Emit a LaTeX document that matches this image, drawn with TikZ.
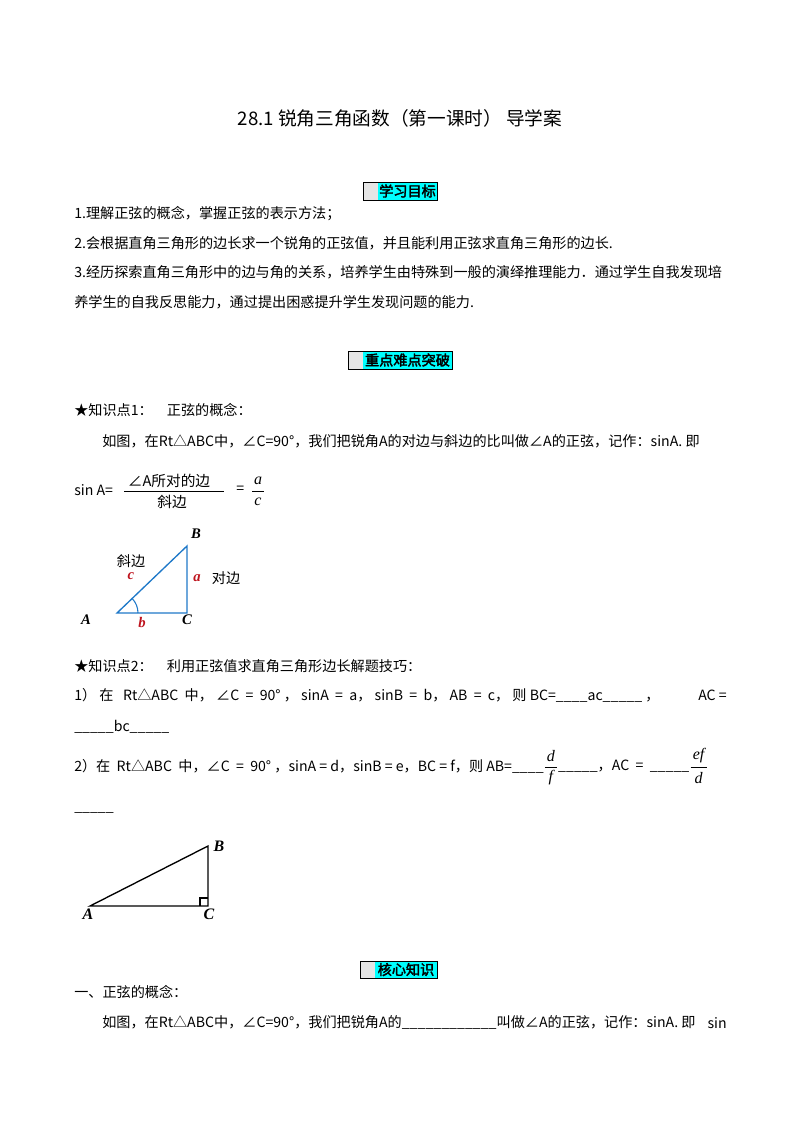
\documentclass[tikz,border=0pt]{standalone}
\usepackage{fontspec}
\setmainfont{Noto Sans CJK SC}[AutoFakeBold=2.5]
\newfontfamily\serifit{Liberation Serif}
\usetikzlibrary{calc}
\definecolor{hcyan}{RGB}{0,255,255}
\definecolor{tblue}{RGB}{30,120,200}
\definecolor{lred}{RGB}{190,20,30}
\tikzset{
  txt/.style={anchor=west,inner sep=0pt,font=\fontsize{10.6}{12}\selectfont},
  hdr/.style={inner sep=0pt,font=\fontsize{10.6}{12}\selectfont\bfseries},
  tri/.style={line width=1pt},
  lab/.style={font=\serifit\bfseries\itshape\fontsize{11}{12}\selectfont,inner sep=0pt},
  frc/.style={inner sep=0pt,font=\serifit\itshape\fontsize{12}{12}\selectfont}
}
\newcommand{\mkhdr}[5]{% x1 x2 y1 y2 text
  \fill[gray!20] (#1,#3) rectangle (#1+15,#4);
  \fill[hcyan] (#1+15,#3) rectangle (#2,#4);
  \draw[line width=0.6pt] (#1,#3) rectangle (#2,#4);
  \node[hdr] at ({(#1+15+#2)/2},{(#3+#4)/2}) {#5};}
\begin{document}
\begin{tikzpicture}[x=0.75pt,y=-0.75pt]
\useasboundingbox (0,0) rectangle (800,1132);
\node[inner sep=0pt,font=\fontsize{14}{16}\selectfont] (title) at (400,118) {28.1 锐角三角函数（第一课时） 导学案};
\mkhdr{363}{437}{182}{200}{学习目标}
\node[txt] (l1) at (74,214) {1.理解正弦的概念，掌握正弦的表示方法；};
\node[txt] (l2) at (74,243) {2.会根据直角三角形的边长求一个锐角的正弦值，并且能利用正弦求直角三角形的边长.};
\node[txt] (l3) at (74,272) {3.经历探索直角三角形中的边与角的关系，培养学生由特殊到一般的演绎推理能力．通过学生自我发现培};
\node[txt] (l4) at (74,302) {养学生的自我反思能力，通过提出困惑提升学生发现问题的能力.};
\mkhdr{348}{452}{351}{369}{重点难点突破}
\node[txt] (k1) at (74,410) {★知识点1：\quad 正弦的概念：};
\node[txt] (k1a) at (102,441) {如图，在Rt△ABC中，∠C=90°，我们把锐角A的对边与斜边的比叫做∠A的正弦，记作：sinA. 即};
\node[txt] (sinA) at (74,490) {sin A=};
\node[inner sep=0pt,font=\itshape\fontsize{11}{13}\selectfont] (num) at (169,481) {∠A所对的边};
\node[inner sep=0pt,font=\itshape\fontsize{11}{13}\selectfont] (den) at (172,502) {斜边};
\draw[line width=0.5pt] (124,491) -- (224,491);
\node[txt] (eq) at (236,490) {=};
\node[frc] (fa) at (258,481) {a};
\node[frc] (fc) at (258,502) {c};
\draw[line width=0.5pt] (252,491) -- (264,491);
% triangle 1
\coordinate (A1) at (117,613); \coordinate (C1) at (187,613); \coordinate (B1) at (187,546);
\draw[tri,tblue] (A1) -- (C1) -- (B1) -- cycle;
\draw[line width=0.8pt,tblue] ($(A1)+(21,0)$) arc[start angle=0,end angle=44,radius=15.75pt];
\node[lab] (lB) at (196,534) {B};
\node[lab] (lA) at (86,620) {A};
\node[lab] (lC) at (187,620) {C};
\node[lab,text=lred] (lb) at (142,622) {b};
\node[lab,text=lred] (lc) at (131,576) {c};
\node[lab,text=lred] (la) at (197,578) {a};
\node[inner sep=0pt,font=\fontsize{10.6}{12}\selectfont] (xb) at (131,561) {斜边};
\node[inner sep=0pt,font=\fontsize{10.6}{12}\selectfont] (db) at (226,578) {对边};
% knowledge 2
\node[txt] (k2) at (74,666) {★知识点2：\quad 利用正弦值求直角三角形边长解题技巧：};
\node[txt] (p1) at (74,695) {1）\ 在 \ \ Rt△ABC \ 中，\ ∠C \ = \ 90°\ ，\ sinA \ = \ a，\ sinB \ = \ b，\ AB \ = \ c，\ 则 BC=\_\_\_\_ac\_\_\_\_\_\ ，};
\node[txt,anchor=east] (p1b) at (727,695) {AC =};
\node[txt] (p1c) at (74,727) {\_\_\_\_\_bc\_\_\_\_\_};
\node[txt] (p2) at (74,766) {2）在 \ Rt△ABC \ 中，∠C \ = \ 90°\ ，sinA = d，sinB = e，BC = f，则 AB=\_\_\_\_};
\node[frc] (fd) at ($(p2.east)+(7,-10)$) {d};
\node[frc] (ff) at ($(p2.east)+(7,12)$) {f};
\draw[line width=0.5pt] ($(p2.east)+(1,1)$) -- ($(p2.east)+(13,1)$);
\node[txt] (p2b) at ($(p2.east)+(14,0)$) {\_\_\_\_\_，AC \ = \ \_\_\_\_\_};
\node[frc] (fef) at ($(p2b.east)+(9,-10)$) {ef};
\node[frc] (fdd) at ($(p2b.east)+(9,12)$) {d};
\draw[line width=0.5pt] ($(p2b.east)+(1,1)$) -- ($(p2b.east)+(17,1)$);
\node[txt] (p2c) at (74,812) {\_\_\_\_\_};
% triangle 2
\coordinate (A2) at (90,906); \coordinate (C2) at (208,906); \coordinate (B2) at (208,846);
\draw[tri] (A2) -- (C2) -- (B2) -- cycle;
\draw[line width=0.8pt] (200,906) -- (200,898) -- (208,898);
\node[lab,font=\serifit\bfseries\itshape\fontsize{12}{12}\selectfont] (lB2) at (219,846) {B};
\node[lab,font=\serifit\bfseries\itshape\fontsize{12}{12}\selectfont] (lA2) at (88,914) {A};
\node[lab,font=\serifit\bfseries\itshape\fontsize{12}{12}\selectfont] (lC2) at (209,914) {C};
\mkhdr{360}{437}{961}{978}{核心知识}
\node[txt] (s1) at (74,992) {一、正弦的概念：};
\node[txt] (s1a) at (102,1023) {如图，在Rt△ABC中，∠C=90°，我们把锐角A的\_\_\_\_\_\_\_\_\_\_\_\_叫做∠A的正弦，记作：sinA. 即};
\node[txt,anchor=east] (s1b) at (727,1023) {sin};
\end{tikzpicture}
\end{document}
